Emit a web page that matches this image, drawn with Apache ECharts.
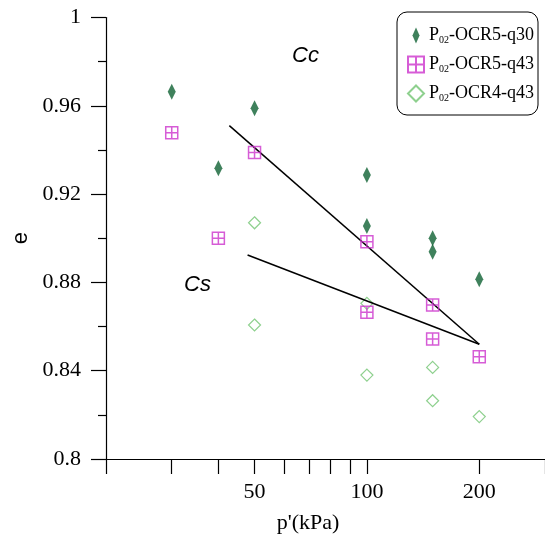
<!DOCTYPE html>
<html>
<head>
<meta charset="utf-8">
<script src="https://cdn.jsdelivr.net/npm/echarts@6/dist/echarts.min.js"></script>
<style>html,body{margin:0;padding:0;background:#fff;}#c{width:545px;height:540px;}</style>
</head>
<body>
<div id="c"></div>
<script>
// Data
const seriesNames = ['P02-OCR5-q30', 'P02-OCR5-q43', 'P02-OCR4-q43'];
const ocr5q30 = [[30,0.9664],[40,0.9317],[50,0.9589],[100,0.9287],[100,0.9055],[150,0.9000],[150,0.8939],[200,0.8814]];
const ocr5q43 = [[30,0.9478],[40,0.9000],[50,0.9388],[100,0.8984],[100,0.8665],[150,0.8698],[150,0.8544],[200,0.8463]];
const ocr4q43 = [[50,0.9070],[50,0.8607],[100,0.8705],[100,0.8380],[150,0.8415],[150,0.8264],[200,0.8192]];
const ccLine = [[42.8,0.951],[200,0.852]];
const csLine = [[47.9,0.8924],[200,0.852]];
const xTickValues = [20,30,40,50,60,70,80,90,100,200,300];
const xLabelValues = [50,100,200];
const yMin = 0.8, yMax = 1, yStep = 0.04;

const serif = 'Liberation Serif';
const sans = 'Liberation Sans';
const chart = echarts.init(document.getElementById('c'));
const squarePath = 'path://M0,0L10,0L10,10L0,10Z M5,0L5,10 M0,5L10,5';
chart.setOption({
  animation: false,
  backgroundColor: '#fff',
  grid: { left: 106, top: 17.5, width: 441, height: 441.5 },
  xAxis: {
    type: 'log', logBase: 10, min: 20, max: 300,
    name: "p'(kPa)", nameLocation: 'middle', nameGap: 53,
    nameTextStyle: { fontFamily: serif, fontSize: 22, color: '#000', padding: [0, 35, 0, 0] },
    axisLine: { lineStyle: { color: '#000', width: 1.2 } },
    axisTick: { show: true, inside: false, length: 15, lineStyle: { color: '#000', width: 1.2 }, customValues: xTickValues },
    minorTick: { show: false },
    axisLabel: { fontFamily: serif, fontSize: 22, color: '#000', margin: 22, customValues: xLabelValues },
    splitLine: { show: false }
  },
  yAxis: {
    type: 'value', min: yMin, max: yMax, interval: yStep,
    name: 'e', nameLocation: 'middle', nameGap: 72, nameRotate: 90,
    nameTextStyle: { fontFamily: sans, fontSize: 22, color: '#000' },
    axisLine: { show: true, lineStyle: { color: '#000', width: 1.2 } },
    axisTick: { show: true, inside: false, length: 15, lineStyle: { color: '#000', width: 1.2 } },
    minorTick: { show: true, splitNumber: 2, length: 8, lineStyle: { color: '#000', width: 1.2 } },
    axisLabel: { fontFamily: serif, fontSize: 22, color: '#000', margin: 25 },
    splitLine: { show: false }
  },
  legend: {
    orient: 'vertical', left: 397, top: 12,
    padding: [14, 4, 12, 10],
    itemWidth: 16, itemHeight: 16, itemGap: 10, itemTextGap: 12,
    borderColor: '#000', borderWidth: 1, borderRadius: 10,
    backgroundColor: '#fff',
    symbolKeepAspect: true,
    data: [
      { name: seriesNames[0], icon: 'path://M4,0L8,9L4,18L0,9Z' },
      { name: seriesNames[1] },
      { name: seriesNames[2] }
    ],
    formatter: function (n) { return '{a|P}{s|02}{a|' + n.slice(3) + '}'; },
    textStyle: {
      color: '#000',
      rich: {
        a: { fontFamily: serif, fontSize: 18, color: '#000', lineHeight: 16 },
        s: { fontFamily: serif, fontSize: 10, color: '#000', padding: [9, 0, 0, 0], lineHeight: 14 }
      }
    }
  },
  graphic: [
    { type: 'text', left: 292, top: 45, style: { text: 'Cc', font: 'italic 22px "Liberation Sans"', fill: '#000' } },
    { type: 'text', left: 184, top: 274, style: { text: 'Cs', font: 'italic 22px "Liberation Sans"', fill: '#000' } }
  ],
  series: [
    { name: seriesNames[2], type: 'scatter', data: ocr4q43, z: 2, symbol: 'diamond', symbolSize: 12,
      itemStyle: { color: 'rgba(255,255,255,0)', borderColor: '#72c472', borderWidth: 1.2 } },
    { name: seriesNames[1], type: 'scatter', data: ocr5q43, z: 4, symbol: squarePath, symbolSize: 12,
      itemStyle: { color: 'rgba(255,255,255,0)', borderColor: '#cc33cc', borderWidth: 1.5 } },
    { name: seriesNames[0], type: 'scatter', data: ocr5q30, z: 5, symbol: 'diamond', symbolSize: [8, 16],
      itemStyle: { color: '#0f6233' } },
    { name: 'Cc', type: 'line', data: ccLine, symbol: 'none', z: 3, lineStyle: { color: '#000', width: 1.5 } },
    { name: 'Cs', type: 'line', data: csLine, symbol: 'none', z: 3, lineStyle: { color: '#000', width: 1.5 } }
  ]
});
</script>
</body>
</html>
